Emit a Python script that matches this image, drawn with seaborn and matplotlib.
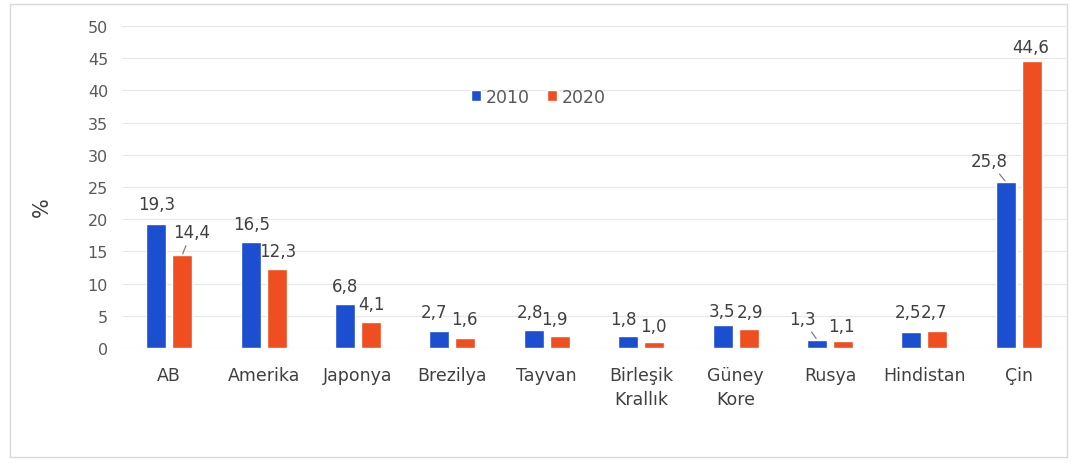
import pandas as pd
import matplotlib
matplotlib.use('Agg')
import matplotlib.pyplot as plt
import seaborn as sns
from matplotlib.patches import Rectangle

# --- data ---
countries = ['AB', 'Amerika', 'Japonya', 'Brezilya', 'Tayvan',
             'Birleşik\nKrallık', 'Güney\nKore', 'Rusya', 'Hindistan', 'Çin']
years = ['2010', '2020']
share_2010 = [19.3, 16.5, 6.8, 2.7, 2.8, 1.8, 3.5, 1.3, 2.5, 25.8]
share_2020 = [14.4, 12.3, 4.1, 1.6, 1.9, 1.0, 2.9, 1.1, 2.7, 44.6]

# label offsets in pixels (dx, dy) relative to bar top, mimicking the original
offsets_2010 = [(0, 20), (1, 18), (0, 18), (-5, 19), (-4, 18), (-5, 17), (-1, 14), (-15, 21), (-3, 20), (-17, 21)]
offsets_2020 = [(9, 23), (1, 18), (1, 18), (-1, 19), (-5, 17), (-1, 16), (1, 17), (-2, 15), (-3, 19), (-1, 14)]
leader_2010 = [7, 9]   # bars with a connector line
leader_2020 = [0]

df = pd.DataFrame({
    'country': countries * 2,
    'year': [years[0]] * len(countries) + [years[1]] * len(countries),
    'share': share_2010 + share_2020,
})

sns.set_style('white')
plt.rcParams['font.family'] = ['DejaVu Sans']

colors = {'2010': '#1b4fcf', '2020': '#ef4f20'}

fig = plt.figure(figsize=(10.74, 4.64), dpi=100)
ax = fig.add_axes([122 / 1074, 1 - 349 / 464, (1066 - 122) / 1074, (349 - 27) / 464])

sns.barplot(data=df, x='country', y='share', hue='year', hue_order=years,
            palette=colors, width=0.55, gap=0.23, ax=ax, saturation=1,
            zorder=2)

ax.set_ylim(0, 50)
ax.set_xlim(-0.5, len(countries) - 0.5)
ax.set_yticks(range(0, 51, 5))
ax.yaxis.grid(True, color='#e8e8e8', linewidth=0.9, zorder=0)
ax.set_axisbelow(True)
for s in ax.spines.values():
    s.set_visible(False)

ax.tick_params(axis='y', length=0, pad=10, labelsize=11.5, labelcolor='#595959')
ax.tick_params(axis='x', length=0, pad=13, labelsize=12.5, labelcolor='#404040')
for lab in ax.get_xticklabels():
    lab.set_linespacing(1.45)
    lab.set_va('top')

ax.set_xlabel('')
ax.set_ylabel('%', fontsize=15, color='#404040', rotation=90)
ax.yaxis.set_label_coords(-0.074, 0.44)

# value labels
def fmt(v):
    return f'{v:.1f}'.replace('.', ',')

for container, vals, offs, leaders in [(ax.containers[0], share_2010, offsets_2010, leader_2010),
                                       (ax.containers[1], share_2020, offsets_2020, leader_2020)]:
    for i, (bar, v) in enumerate(zip(container, vals)):
        xc = bar.get_x() + bar.get_width() / 2
        top = bar.get_height()
        dx, dy = offs[i]
        kw = {}
        if i in leaders:
            kw['arrowprops'] = dict(arrowstyle='-', color='#808080', lw=0.9,
                                    shrinkA=1, shrinkB=1)
        ax.annotate(fmt(v), xy=(xc, top), xytext=(dx, dy),
                    textcoords='offset pixels', ha='center', va='center',
                    fontsize=12, color='#404040', zorder=1, **kw)

# legend
handles, labels = ax.get_legend_handles_labels()
ax.legend(handles, labels, loc='center', bbox_to_anchor=(538 / 1074, 1 - 98 / 464),
          bbox_transform=fig.transFigure, ncol=2, frameon=False,
          handlelength=0.6, handleheight=0.6, handletextpad=0.25,
          columnspacing=1.0, fontsize=12.5, labelcolor='#595959')

# light frame around the chart area
fig.patches.append(Rectangle((10 / 1074, 1 - 458 / 464), (1067 - 10) / 1074, (458 - 5) / 464,
                             transform=fig.transFigure, fill=False,
                             edgecolor='#d9d9d9', linewidth=1.0))

plt.savefig('out.png', dpi=100)
